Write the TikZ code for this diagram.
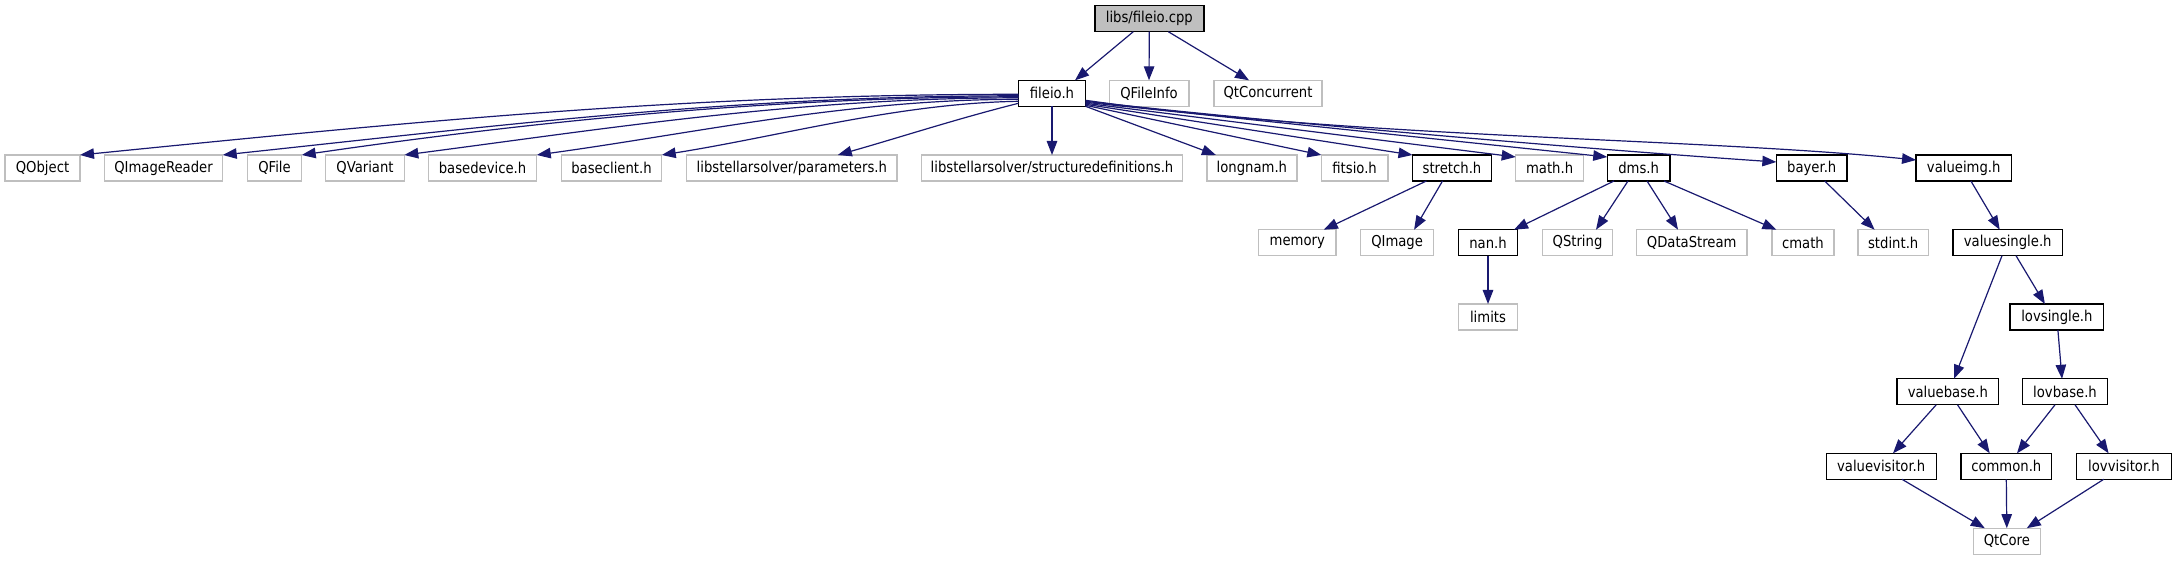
\documentclass[tikz,border=0pt]{standalone}
\usepackage{fontspec}
\setmainfont{DejaVu Sans}[FakeStretch=0.88]
\usetikzlibrary{arrows.meta}
\definecolor{edgec}{HTML}{191970}
\definecolor{greyb}{HTML}{BFBFBF}
\tikzset{
  nbox/.style={rectangle, draw=black, line width=1.4pt, minimum height=26pt, inner sep=0pt, outer sep=0pt, font=\fontsize{15}{17}\selectfont},
  docbox/.style={nbox},
  extbox/.style={nbox, draw=greyb},
  rootbox/.style={nbox, fill=greyb},
  e/.style={draw=edgec, line width=1.2pt, -{Triangle[length=14pt,width=10.5pt]}}
}
\begin{document}
\begin{tikzpicture}[x=1pt,y=1pt]
\fill[white] (0,0) rectangle (2177,560);
\useasboundingbox (0,0) rectangle (2177,560);
% row 0
\node[rootbox, minimum width=109pt] (root) at (1149.3,541.3) {libs/fileio.cpp};
% row 1
\node[docbox, minimum width=67pt] (fileio) at (1052,466.7) {fileio.h};
\node[extbox, minimum width=79.6pt] (qfileinfo) at (1149,466.7) {QFileInfo};
\node[extbox, minimum width=108pt] (qtconc) at (1268,466.7) {QtConcurrent};
% row 2
\node[extbox, minimum width=75pt] (qobject) at (42.5,392) {QObject};
\node[extbox, minimum width=118.4pt] (qimagereader) at (163.5,392) {QImageReader};
\node[extbox, minimum width=54.4pt] (qfile) at (274.5,392) {QFile};
\node[extbox, minimum width=78.6pt] (qvariant) at (365,392) {QVariant};
\node[extbox, minimum width=108.5pt] (basedevice) at (482.5,392) {basedevice.h};
\node[extbox, minimum width=100.5pt] (baseclient) at (611.5,392) {baseclient.h};
\node[extbox, minimum width=210.4pt] (params) at (791.8,392) {libstellarsolver/parameters.h};
\node[extbox, minimum width=260.7pt] (structdefs) at (1052,392) {libstellarsolver/structuredefinitions.h};
\node[extbox, minimum width=90.2pt] (longnam) at (1251.9,392) {longnam.h};
\node[extbox, minimum width=66.5pt] (fitsio) at (1354.6,392) {fitsio.h};
\node[docbox, minimum width=79pt] (stretch) at (1452,392) {stretch.h};
\node[extbox, minimum width=67.8pt] (math) at (1549.6,392) {math.h};
\node[docbox, minimum width=62.7pt] (dms) at (1638.6,392) {dms.h};
\node[docbox, minimum width=70.7pt] (bayer) at (1811.7,392) {bayer.h};
\node[docbox, minimum width=95.3pt] (valueimg) at (1963.7,392) {valueimg.h};
% row 3
\node[extbox, minimum width=77.3pt] (memory) at (1297.3,317.3) {memory};
\node[extbox, minimum width=73pt] (qimage) at (1397.1,317.3) {QImage};
\node[docbox, minimum width=59pt] (nan) at (1488,317.3) {nan.h};
\node[extbox, minimum width=70pt] (qstring) at (1577.5,317.3) {QString};
\node[extbox, minimum width=110.6pt] (qdatastream) at (1691.7,317.3) {QDataStream};
\node[extbox, minimum width=62.2pt] (cmath) at (1802.9,317.3) {cmath};
\node[extbox, minimum width=70.5pt] (stdint) at (1893.2,317.3) {stdint.h};
\node[docbox, minimum width=109.5pt] (valuesingle) at (2007.7,317.3) {valuesingle.h};
% row 4
\node[extbox, minimum width=58.5pt] (limits) at (1488,243) {limits};
\node[docbox, minimum width=93.7pt] (lovsingle) at (2056.9,243) {lovsingle.h};
% row 5
\node[docbox, minimum width=101.6pt] (valuebase) at (1947.8,168.2) {valuebase.h};
\node[docbox, minimum width=85.2pt] (lovbase) at (2065,168.2) {lovbase.h};
% row 6
\node[docbox, minimum width=110pt] (valuevisitor) at (1881.2,93.7) {valuevisitor.h};
\node[docbox, minimum width=90.6pt] (common) at (2006.3,93.7) {common.h};
\node[docbox, minimum width=95.2pt] (lovvisitor) at (2124,93.7) {lovvisitor.h};
% row 7
\node[extbox, minimum width=67pt] (qtcore) at (2006.8,18.8) {QtCore};

% root edges
\draw[e] ([xshift=-16]root.south) -- ([xshift=23]fileio.north);
\draw[e] (root.south) -- (qfileinfo.north);
\draw[e] ([xshift=19]root.south) -- ([xshift=-19]qtconc.north);

% left fan
\draw[e] ([yshift=-1]fileio.west) .. controls +(-330,0) and +(340,34) .. (qobject.north east);
\draw[e] ([yshift=-2.5]fileio.west) .. controls +(-280,0) and +(290,31) .. (qimagereader.north east);
\draw[e] ([yshift=-3.5]fileio.west) .. controls +(-250,0) and +(220,32) .. (qfile.north east);
\draw[e] ([yshift=-4.5]fileio.west) .. controls +(-220,0) and +(200,26) .. (qvariant.north east);
\draw[e] ([yshift=-6]fileio.west) .. controls +(-170,0) and +(160,22) .. (basedevice.north east);
\draw[e] ([yshift=-8]fileio.west) .. controls +(-120,-2) and +(120,19) .. (baseclient.north east);
\draw[e] ([yshift=-10]fileio.west) .. controls +(-60,-15) and +(60,17) .. ([xshift=46]params.north);
\draw[e] (fileio.south) -- (structdefs.north);

% right fan
\draw[e] (fileio.south east) -- ([xshift=-36]longnam.north);
\draw[e] ([yshift=1]fileio.south east) -- (fitsio.north west);
\draw[e] ([yshift=2]fileio.south east) -- (stretch.north west);
\draw[e] ([yshift=3]fileio.south east) -- ([yshift=-2]math.north west);
\draw[e] ([yshift=4]fileio.south east) -- ([yshift=-2]dms.north west);
\draw[e] ([yshift=5]fileio.south east) .. controls (1300,435) and (1600,410) .. ([yshift=6]bayer.west);
\draw[e] ([yshift=6]fileio.south east) .. controls (1350,422) and (1700,422) .. ([yshift=8]valueimg.west);

% level 2
\draw[e] ([xshift=-25.6]stretch.south) -- ([xshift=26.5]memory.north);
\draw[e] ([xshift=-9.5]stretch.south) -- ([xshift=17]qimage.north);
\draw[e] ([xshift=-24.6]dms.south) -- ([xshift=26]nan.north);
\draw[e] ([xshift=-10.6]dms.south) -- ([xshift=18.5]qstring.north);
\draw[e] ([xshift=8.4]dms.south) -- ([xshift=-13.7]qdatastream.north);
\draw[e] ([xshift=25.4]dms.south) -- ([xshift=-26.5]cmath.north);
\draw[e] ([xshift=13]bayer.south) -- ([xshift=-18.6]stdint.north);
\draw[e] ([xshift=7.2]valueimg.south) -- ([xshift=-8]valuesingle.north);
\draw[e] ([xshift=-5.7]valuesingle.south) -- ([xshift=6.2]valuebase.north);
\draw[e] ([xshift=8.3]valuesingle.south) -- ([xshift=-12]lovsingle.north);
\draw[e] (nan.south) -- (limits.north);
\draw[e] ([xshift=1]lovsingle.south) -- ([xshift=-3]lovbase.north);
\draw[e] ([xshift=-11.6]valuebase.south) -- ([xshift=11.8]valuevisitor.north);
\draw[e] ([xshift=9.7]valuebase.south) -- ([xshift=-16.6]common.north);
\draw[e] ([xshift=-10]lovbase.south) -- ([xshift=10.7]common.north);
\draw[e] ([xshift=10]lovbase.south) -- ([xshift=-15.4]lovvisitor.north);
\draw[e] ([xshift=20.8]valuevisitor.south) -- ([xshift=-22]qtcore.north);
\draw[e] (common.south) -- (qtcore.north);
\draw[e] ([xshift=-20.3]lovvisitor.south) -- ([xshift=20]qtcore.north);
\end{tikzpicture}
\end{document}
